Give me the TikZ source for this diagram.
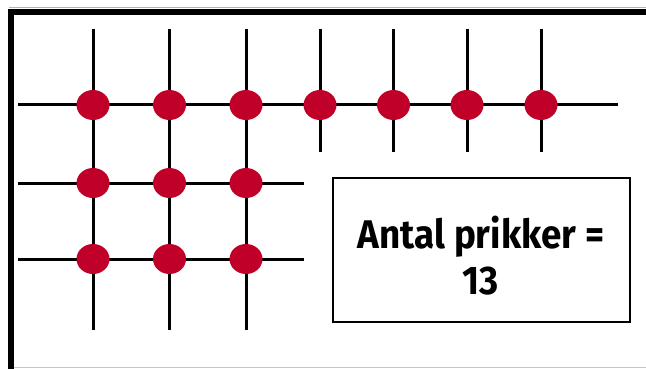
\documentclass[tikz,border=0pt]{standalone}
\usepackage{fontspec}
\usetikzlibrary{shapes.geometric}
\newfontfamily\lblfont[FakeStretch=0.92]{Fira Sans}
\definecolor{dotred}{RGB}{192,0,40}
\begin{document}
\begin{tikzpicture}[x=1pt,y=-1pt,
  gridline/.style={line width=3pt,black},
  dotnode/.style={ellipse,fill=dotred,draw=none,minimum width=33pt,minimum height=30pt,inner sep=0pt},
  framebox/.style={draw=black,line width=2pt,minimum width=297pt,minimum height=144pt,inner sep=0pt},
  boxtext/.style={align=center,inner sep=0pt,font=\lblfont\bfseries\fontsize{40}{46}\selectfont}
]
\useasboundingbox (0,0) rectangle (646,369);
% outer frame
\draw[gray!60,line width=1pt] (9,8) -- (646,8);
\draw[gray!45,line width=1pt] (9,367.5) -- (646,367.5);
\draw[black,line width=5.5pt] (11,12) -- (646,12);
\draw[black,line width=5.5pt] (11,9.3) -- (11,369);
% line ends
\coordinate (h1l) at (18,105); \coordinate (h1r) at (618,105);
\coordinate (h2l) at (18,183); \coordinate (h2r) at (304,183);
\coordinate (h3l) at (18,259); \coordinate (h3r) at (304,259);
\foreach \i/\x in {1/93,2/169.5,3/246}{
  \coordinate (v\i t) at (\x,29); \coordinate (v\i b) at (\x,330);
}
\foreach \i/\x in {4/320,5/393.5,6/467,7/541}{
  \coordinate (v\i t) at (\x,29); \coordinate (v\i b) at (\x,152);
}
\draw[gridline] (h1l) -- (h1r);
\draw[gridline] (h2l) -- (h2r);
\draw[gridline] (h3l) -- (h3r);
\foreach \i in {1,...,7}{\draw[gridline] (v\i t) -- (v\i b);}
% dots
\foreach \i/\x in {1/93,2/169.5,3/246,4/320,5/393.5,6/467,7/541}{
  \node[dotnode] (d1\i) at (\x,105) {};
}
\foreach \i/\x in {1/93,2/169.5,3/246}{
  \node[dotnode] (d2\i) at (\x,183) {};
  \node[dotnode] (d3\i) at (\x,259) {};
}
% box
\node[framebox] (box) at (481.5,250) {};
\node[boxtext] (lbl) at (481,256) {Antal prikker =\\13};
\end{tikzpicture}
\end{document}
